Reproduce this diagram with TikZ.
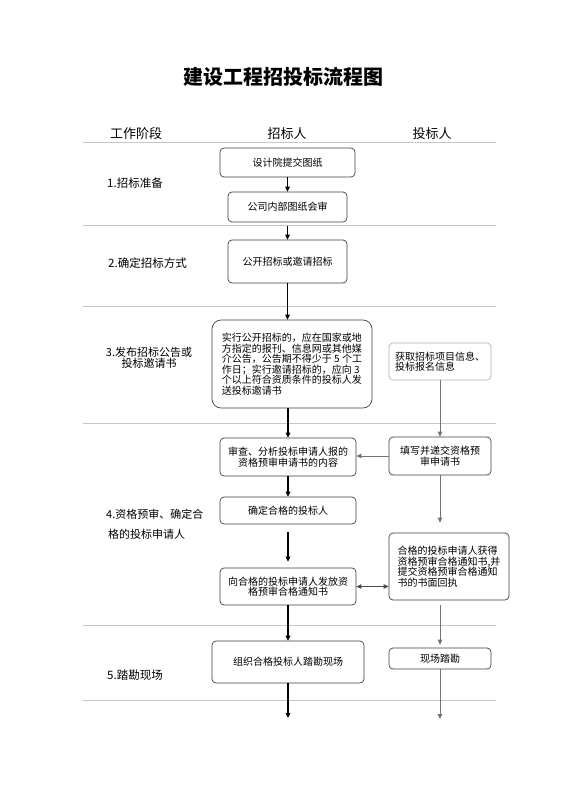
\documentclass[tikz,border=0pt]{standalone}
\usepackage{fontspec}
\setmainfont{Noto Sans CJK SC}
\usetikzlibrary{arrows.meta}
\newcommand{\boxfont}{\fontsize{10}{10.5}\selectfont}
\newcommand{\lblfont}{\fontsize{11.5}{12}\selectfont}
\tikzset{
  box/.style={draw=black!75, rounded corners=4pt, line width=0.7pt, align=center,
    font=\boxfont, inner sep=0pt},
  lbox/.style={box, draw=black!30},
  flow/.style={-{Triangle[length=5pt,width=4.5pt]}, line width=1.1pt, black},
  rflow/.style={-{Triangle[length=5pt,width=4.5pt]}, line width=0.9pt, black!55},
  dflow/.style={{Triangle[length=5pt,width=4.5pt]}-{Triangle[length=5pt,width=4.5pt]}, line width=0.9pt, black!70},
  sepline/.style={draw=black!22, line width=0.8pt},
  lbl/.style={font=\lblfont, inner sep=0pt},
  hdr/.style={font=\fontsize{13}{13}\selectfont, inner sep=0pt}
}
\begin{document}
\begin{tikzpicture}[x=1pt,y=-1pt]
\useasboundingbox (0,0) rectangle (560,792);
\fill[white] (0,0) rectangle (560,792);

% title
\node[font=\fontsize{20}{20}\selectfont\bfseries, inner sep=0pt] (title) at (283,77) {建设工程招投标流程图};

% header
\node[hdr] (h1) at (136,134) {工作阶段};
\node[hdr] (h2) at (287,134) {招标人};
\node[hdr] (h3) at (432,134) {投标人};

% separators
\foreach \yy in {142,225,306,423,625,700}
  \draw[sepline] (83,\yy) -- (496,\yy);

% stage labels
\node[lbl, anchor=west] (s1) at (107,183) {1.招标准备};
\node[lbl, anchor=west] (s2) at (108,263) {2.确定招标方式};
\node[lbl, align=center, font=\fontsize{11}{11}\selectfont] (s3) at (149,358) {3.发布招标公告或\\投标邀请书};
\node[lbl, anchor=west, font=\fontsize{11}{11}\selectfont] (s4a) at (106,514) {4.资格预审、确定合};
\node[lbl, anchor=west, font=\fontsize{11}{11}\selectfont] (s4b) at (108,534) {格的投标申请人};
\node[lbl, anchor=west] (s5) at (107,675) {5.踏勘现场};

% boxes: tenderer column
\node[box, minimum width=135pt, minimum height=29pt] (b1) at (287.5,162.5) {设计院提交图纸};
\node[box, minimum width=119pt, minimum height=30pt] (b2) at (287.5,207) {公司内部图纸会审};
\node[box, minimum width=119pt, minimum height=43pt] (b3) at (287.5,261.5) {公开招标或邀请招标};
\node[box, rounded corners=9pt, minimum width=160pt, minimum height=88pt, align=left] (b4) at (292,364)
  {实行公开招标的，应在国家或地\\方指定的报刊、信息网或其他媒\\介公告，公告期不得少于 5 个工\\作日；实行邀请招标的，应向 3\\个以上符合资质条件的投标人发\\送投标邀请书};
\node[box, minimum width=136pt, minimum height=38pt] (b6) at (288,457) {审查、分析投标申请人报的\\资格预审申请书的内容};
\node[box, minimum width=136pt, minimum height=27pt] (b8) at (288,510.5) {确定合格的投标人};
\node[box, minimum width=136pt, minimum height=37pt] (b9) at (288,586.5) {向合格的投标申请人发放资\\格预审合格通知书};
\node[box, minimum width=152pt, minimum height=42pt] (b11) at (288,662) {组织合格投标人踏勘现场};

% boxes: bidder column
\node[lbox, minimum width=102pt, minimum height=37pt, align=left] (b5) at (440,361.5) {获取招标项目信息、\\投标报名信息};
\node[box, minimum width=102pt, minimum height=38pt] (b7) at (440,456) {填写并递交资格预\\审申请书};
\node[box, minimum width=120pt, minimum height=67pt, align=left] (b10) at (449,566.5)
  {合格的投标申请人获得\\资格预审合格通知书,并\\提交资格预审合格通知\\书的书面回执};
\node[box, minimum width=102pt, minimum height=21pt] (b12) at (440,658.5) {现场踏勘};

% end points
\coordinate (e1) at (288,718);
\coordinate (e2) at (440,719);

% connectors
\draw[flow] (b1) -- (b2);
\draw[flow, shorten <=4pt] (b2) -- (b3);
\draw[flow] (b3) -- (b4.north -| b3.south);
\draw[flow] (b4.south -| b6.north) -- (b6);
\draw[flow] (b6) -- (b8);
\draw[flow, shorten <=8pt, shorten >=6pt] (b8) -- (b9);
\draw[flow] (b9) -- (b11);
\draw[flow] (b11) -- (e1);

\draw[rflow] (b5) -- (b7);
\draw[rflow] (b7.west) -- (b7.west -| b6.east);
\draw[rflow, shorten >=10pt] (b7) -- (b10.north -| b7.south);
\draw[dflow] (b9.east) -- (b9.east -| b10.west);
\draw[rflow, shorten <=5pt, shorten >=3pt] (b10.south -| b12.north) -- (b12);
\draw[rflow] (b12) -- (e2);
\end{tikzpicture}
\end{document}
